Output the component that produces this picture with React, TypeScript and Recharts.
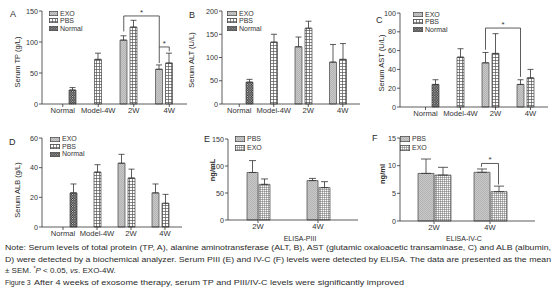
import React from 'react';
import { BarChart, Bar, XAxis, YAxis, ErrorBar, Legend, ReferenceLine } from 'recharts';

const FONT = '"Liberation Sans", Arial, Helvetica, sans-serif';
const INK = '#333';
const EDGE = '#444';

// x categories
const GROUPS = ['Normal', 'Model-4W', '2W', '4W'];
const WEEKS = ['2W', '4W'];

// A - serum TP (g/L), mean and SEM
const TP_EXO = [null, null, 103, 56];
const TP_EXO_SEM = [null, null, 7, 7];
const TP_PBS = [null, 72, 124, 66];
const TP_PBS_SEM = [null, 10, 11, 16];
const TP_NORMAL = [22.5, null, null, null];
const TP_NORMAL_SEM = [4, null, null, null];
const TP_TICKS = [0, 50, 100, 150];

// B - serum ALT (U/L)
const ALT_EXO = [null, null, 123, 90];
const ALT_EXO_SEM = [null, null, 21, 38];
const ALT_PBS = [null, 133, 163, 96];
const ALT_PBS_SEM = [null, 17, 15, 34];
const ALT_NORMAL = [47, null, null, null];
const ALT_NORMAL_SEM = [6, null, null, null];
const ALT_TICKS = [0, 50, 100, 150, 200];

// C - serum AST (U/L)
const AST_EXO = [null, null, 47, 24];
const AST_EXO_SEM = [null, null, 11, 5];
const AST_PBS = [null, 53, 57, 31];
const AST_PBS_SEM = [null, 9, 21, 9];
const AST_NORMAL = [24, null, null, null];
const AST_NORMAL_SEM = [5, null, null, null];
const AST_TICKS = [0, 20, 40, 60, 80, 100];

// D - serum ALB (g/L)
const ALB_EXO = [null, null, 43, 23];
const ALB_EXO_SEM = [null, null, 6, 6];
const ALB_PBS = [null, 37, 33, 16];
const ALB_PBS_SEM = [null, 5, 6, 6];
const ALB_NORMAL = [23, null, null, null];
const ALB_NORMAL_SEM = [6, null, null, null];
const ALB_TICKS = [0, 20, 40, 60];

// E - ELISA PIII (ng/mL)
const PIII_PBS = [88, 73];
const PIII_PBS_SEM = [22, 4];
const PIII_EXO = [66, 60];
const PIII_EXO_SEM = [10, 11];
const PIII_TICKS = [0, 50, 100, 150];

// F - ELISA IV-C (ng/ml)
const IVC_PBS = [8.6, 8.8];
const IVC_PBS_SEM = [2.6, 0.6];
const IVC_EXO = [8.3, 5.3];
const IVC_EXO_SEM = [1.4, 1.0];
const IVC_TICKS = [0, 5, 10, 15];

// significance brackets: [category, series] at each end, bracket level, where each leg stops
const TP_SIG = [
  { from: ['2W', 'EXO'], to: ['4W', 'EXO'], y: 142, left: 117, right: 92 },
  { from: ['4W', 'EXO'], to: ['4W', 'PBS'], y: 92, left: 66, right: 85 },
];
const AST_SIG = [{ from: ['2W', 'EXO'], to: ['4W', 'EXO'], y: 84, left: 61, right: 32 }];
const IVC_SIG = [{ from: ['4W', 'PBS'], to: ['4W', 'EXO'], y: 10.4, left: 9.8, right: 6.6 }];

type Series = { key: string; name: string; fill: string; values: (number | null)[]; sem: (number | null)[] };
type Sig = { from: string[]; to: string[]; y: number; left: number; right: number };

const serum = (exo, exoSem, pbs, pbsSem, normal, normalSem): Series[] => [
  { key: 'EXO', name: 'EXO', fill: 'url(#pExo)', values: exo, sem: exoSem },
  { key: 'PBS', name: 'PBS', fill: 'url(#pPbs)', values: pbs, sem: pbsSem },
  { key: 'Normal', name: 'Normal', fill: 'url(#pNormal)', values: normal, sem: normalSem },
];
const elisa = (pbs, pbsSem, exo, exoSem): Series[] => [
  { key: 'PBS', name: 'PBS', fill: 'url(#pExo)', values: pbs, sem: pbsSem },
  { key: 'EXO', name: 'EXO', fill: 'url(#pFine)', values: exo, sem: exoSem },
];

function Panel(props: any) {
  const { box, margin, categories, series, ticks, pad, barSize, barGap, xHeight, legend, cap } = props;
  const sig: Sig[] = props.sig || [];
  const rows = categories.map((cat: string, i: number) => {
    const row: any = { cat };
    series.forEach((s: Series) => {
      row[s.key] = s.values[i];
      row[s.key + 'Err'] = s.sem[i] == null ? null : [0, s.sem[i]];
    });
    return row;
  });
  const step = barSize + barGap;
  const slot = (key: string) =>
    (series.findIndex((s: Series) => s.key === key) - (series.length - 1) / 2) * step;
  const leg = (dx: number) => (p: any) => (
    <line x1={p.x1 + dx} y1={p.y1} x2={p.x2 + dx} y2={p.y2} stroke={INK} strokeWidth={0.8} />
  );

  const brackets = sig.flatMap((b, i) => {
    const dx1 = slot(b.from[1]);
    const dx2 = slot(b.to[1]);
    return [
      <ReferenceLine
        key={`h${i}`}
        ifOverflow="visible"
        segment={[{ x: b.from[0], y: b.y }, { x: b.to[0], y: b.y }]}
        shape={(p: any) => (
          <g>
            <line x1={p.x1 + dx1} y1={p.y1} x2={p.x2 + dx2} y2={p.y2} stroke={INK} strokeWidth={0.8} />
            <text x={(p.x1 + dx1 + p.x2 + dx2) / 2} y={p.y1 - 1} textAnchor="middle" fontSize={8} fill={INK}>
              *
            </text>
          </g>
        )}
      />,
      <ReferenceLine key={`l${i}`} ifOverflow="visible" segment={[{ x: b.from[0], y: b.y }, { x: b.from[0], y: b.left }]} shape={leg(dx1)} />,
      <ReferenceLine key={`r${i}`} ifOverflow="visible" segment={[{ x: b.to[0], y: b.y }, { x: b.to[0], y: b.right }]} shape={leg(dx2)} />,
    ];
  });

  const renderLegend = () => (
    <div style={{ fontSize: 7, color: INK, lineHeight: `${legend.row}px` }}>
      {series.map((s: Series) => (
        <div key={s.key} style={{ display: 'flex', alignItems: 'center', height: legend.row }}>
          <svg width={legend.w} height={legend.h} style={{ marginRight: 2, flex: 'none' }}>
            <rect x={0.35} y={0.35} width={legend.w - 0.7} height={legend.h - 0.7} fill={s.fill} stroke={EDGE} strokeWidth={0.7} />
          </svg>
          <span>{s.name}</span>
        </div>
      ))}
    </div>
  );

  return (
    <div style={{ position: 'absolute', left: box.left, top: box.top }}>
      <BarChart width={box.width} height={box.height} data={rows} margin={margin} barSize={barSize} barGap={barGap}>
        <XAxis
          dataKey="cat"
          interval={0}
          height={xHeight}
          padding={pad}
          tickSize={3}
          tickMargin={1}
          axisLine={{ stroke: INK, strokeWidth: 0.8 }}
          tickLine={{ stroke: INK, strokeWidth: 0.8 }}
          tick={{ fontSize: 7.6, fill: INK }}
        />
        <YAxis
          type="number"
          width={30}
          domain={[ticks[0], ticks[ticks.length - 1]]}
          ticks={ticks}
          interval={0}
          tickSize={3}
          tickMargin={1}
          axisLine={{ stroke: INK, strokeWidth: 0.8 }}
          tickLine={{ stroke: INK, strokeWidth: 0.8 }}
          tick={{ fontSize: 7.2, fill: INK }}
        />
        <Legend
          layout="vertical"
          align="center"
          verticalAlign="middle"
          wrapperStyle={{ left: legend.left, top: legend.top, width: 60 }}
          content={renderLegend}
        />
        {series.map((s: Series) => (
          <Bar key={s.key} dataKey={s.key} name={s.name} fill={s.fill} stroke={EDGE} strokeWidth={0.7} isAnimationActive={false}>
            <ErrorBar dataKey={s.key + 'Err'} width={cap} stroke={INK} strokeWidth={0.8} isAnimationActive={false} />
          </Bar>
        ))}
        {brackets}
      </BarChart>
    </div>
  );
}

function Patterns() {
  return (
    <svg width={0} height={0} style={{ position: 'absolute' }}>
      <defs>
        <pattern id="pExo" width={2} height={2} patternUnits="userSpaceOnUse">
          <rect width={2} height={2} fill="#c8c8c8" />
          <path d="M0,2 L2,0" stroke="#a6a6a6" strokeWidth={0.6} />
        </pattern>
        <pattern id="pPbs" width={3} height={3} patternUnits="userSpaceOnUse">
          <rect width={3} height={3} fill="#fff" />
          <path d="M0,0.5 H3 M0.5,0 V3" stroke="#555" strokeWidth={0.7} />
        </pattern>
        <pattern id="pNormal" width={2.4} height={2.4} patternUnits="userSpaceOnUse">
          <rect width={2.4} height={2.4} fill="#2b2b2b" />
          <rect width={1} height={1} fill="#eee" />
          <rect x={1.2} y={1.2} width={1} height={1} fill="#eee" />
        </pattern>
        <pattern id="pFine" width={2} height={2} patternUnits="userSpaceOnUse">
          <rect width={2} height={2} fill="#fff" />
          <path d="M0,0.5 H2 M0.5,0 V2" stroke="#6a6a6a" strokeWidth={0.5} />
        </pattern>
      </defs>
    </svg>
  );
}

function Overlay() {
  const yLabel = (x: number, y: number, t: string, weight = 400) => (
    <text transform={`translate(${x},${y}) rotate(-90)`} textAnchor="middle" dominantBaseline="central" fontSize={7.5} fontWeight={weight}>
      {t}
    </text>
  );
  return (
    <svg width={556} height={300} style={{ position: 'absolute', left: 0, top: 0, pointerEvents: 'none' }} fill="#2a2a2a">
      <g fontSize={9}>
        <text x={10} y={17}>A</text>
        <text x={189} y={18}>B</text>
        <text x={376} y={23}>C</text>
        <text x={9} y={145}>D</text>
        <text x={204} y={142}>E</text>
        <text x={372} y={141}>F</text>
      </g>
      {yLabel(17, 62, 'Serum TP (g/L)')}
      {yLabel(191, 60, 'Serum ALT (U/L)')}
      {yLabel(381, 63, 'Serum AST (U/L)')}
      {yLabel(17, 190, 'Serum ALB (g/L)')}
      {yLabel(212, 170, 'ng/mL', 600)}
      {yLabel(382, 174, 'ng/ml', 600)}
      <text x={300} y={240.5} textAnchor="middle" fontSize={7}>ELISA-PIII</text>
      <text x={464} y={240.5} textAnchor="middle" fontSize={7}>ELISA-IV-C</text>
      <g fontSize={8}>
        <text x={5} y={249.5} textLength={546} lengthAdjust="spacingAndGlyphs">
          Note: Serum levels of total protein (TP, A), alanine aminotransferase (ALT, B), AST (glutamic oxaloacetic transaminase, C) and ALB (albumin,
        </text>
        <text x={5} y={261.5} textLength={546} lengthAdjust="spacingAndGlyphs">
          D) were detected by a biochemical analyzer. Serum PIII (E) and IV-C (F) levels were detected by ELISA. The data are presented as the mean
        </text>
        <text x={5} y={273}>
          ± SEM. <tspan fontSize={5.5} dy={-3}>*</tspan>
          <tspan dy={3} fontStyle="italic">P</tspan> &lt; 0.05, <tspan fontStyle="italic">vs</tspan>. EXO-4W.
        </text>
        <text x={5} y={285} fontSize={7}>Figure 3</text>
        <text x={34} y={285} textLength={370} lengthAdjust="spacingAndGlyphs">
          After 4 weeks of exosome therapy, serum TP and PIII/IV-C levels were significantly improved
        </text>
      </g>
    </svg>
  );
}

const SERUM_BAR = { barSize: 7, barGap: 3, cap: 3, xHeight: 20 };

export default function App() {
  return (
    <div style={{ position: 'absolute', left: 0, top: 0, width: 556, height: 300, background: '#fff', fontFamily: FONT, color: INK }}>
      <Patterns />
      <Panel
        {...SERUM_BAR}
        box={{ left: 0, top: 0, width: 190, height: 124 }}
        margin={{ top: 11, right: 3, bottom: 0, left: 12 }}
        pad={{ left: 3, right: 0 }}
        categories={GROUPS}
        series={serum(TP_EXO, TP_EXO_SEM, TP_PBS, TP_PBS_SEM, TP_NORMAL, TP_NORMAL_SEM)}
        ticks={TP_TICKS}
        sig={TP_SIG}
        legend={{ left: 49, top: 9.5, row: 7.6, w: 9, h: 5 }}
      />
      <Panel
        {...SERUM_BAR}
        box={{ left: 180, top: 0, width: 180, height: 124 }}
        margin={{ top: 11, right: 0, bottom: 0, left: 12 }}
        pad={{ left: 0, right: 0 }}
        categories={GROUPS}
        series={serum(ALT_EXO, ALT_EXO_SEM, ALT_PBS, ALT_PBS_SEM, ALT_NORMAL, ALT_NORMAL_SEM)}
        ticks={ALT_TICKS}
        legend={{ left: 47, top: 9.5, row: 7.6, w: 10, h: 5 }}
      />
      <Panel
        {...SERUM_BAR}
        box={{ left: 360, top: 0, width: 196, height: 127 }}
        margin={{ top: 13, right: 8, bottom: 0, left: 10 }}
        pad={{ left: 8, right: 0 }}
        categories={GROUPS}
        series={serum(AST_EXO, AST_EXO_SEM, AST_PBS, AST_PBS_SEM, AST_NORMAL, AST_NORMAL_SEM)}
        ticks={AST_TICKS}
        sig={AST_SIG}
        legend={{ left: 53, top: 10.5, row: 7.6, w: 10, h: 5 }}
      />
      <Panel
        {...SERUM_BAR}
        box={{ left: 0, top: 127, width: 190, height: 120 }}
        margin={{ top: 11, right: 8, bottom: 0, left: 12 }}
        pad={{ left: 4, right: 0 }}
        categories={GROUPS}
        series={serum(ALB_EXO, ALB_EXO_SEM, ALB_PBS, ALB_PBS_SEM, ALB_NORMAL, ALB_NORMAL_SEM)}
        ticks={ALB_TICKS}
        legend={{ left: 50, top: 8.3, row: 7.6, w: 10, h: 5 }}
      />
      <Panel
        box={{ left: 180, top: 127, width: 180, height: 120 }}
        margin={{ top: 12, right: 2, bottom: 0, left: 18 }}
        pad={{ left: 0, right: 10 }}
        barSize={11}
        barGap={1}
        cap={3.5}
        xHeight={27}
        categories={WEEKS}
        series={elisa(PIII_PBS, PIII_PBS_SEM, PIII_EXO, PIII_EXO_SEM)}
        ticks={PIII_TICKS}
        legend={{ left: 55, top: 8, row: 8.5, w: 10, h: 6 }}
      />
      <Panel
        box={{ left: 360, top: 127, width: 196, height: 120 }}
        margin={{ top: 11, right: 21, bottom: 0, left: 10 }}
        pad={{ left: 6, right: 17 }}
        barSize={16}
        barGap={1}
        cap={5}
        xHeight={26}
        categories={WEEKS}
        series={elisa(IVC_PBS, IVC_PBS_SEM, IVC_EXO, IVC_EXO_SEM)}
        ticks={IVC_TICKS}
        sig={IVC_SIG}
        legend={{ left: 40, top: 8, row: 8.5, w: 10, h: 6 }}
      />
      <Overlay />
    </div>
  );
}
